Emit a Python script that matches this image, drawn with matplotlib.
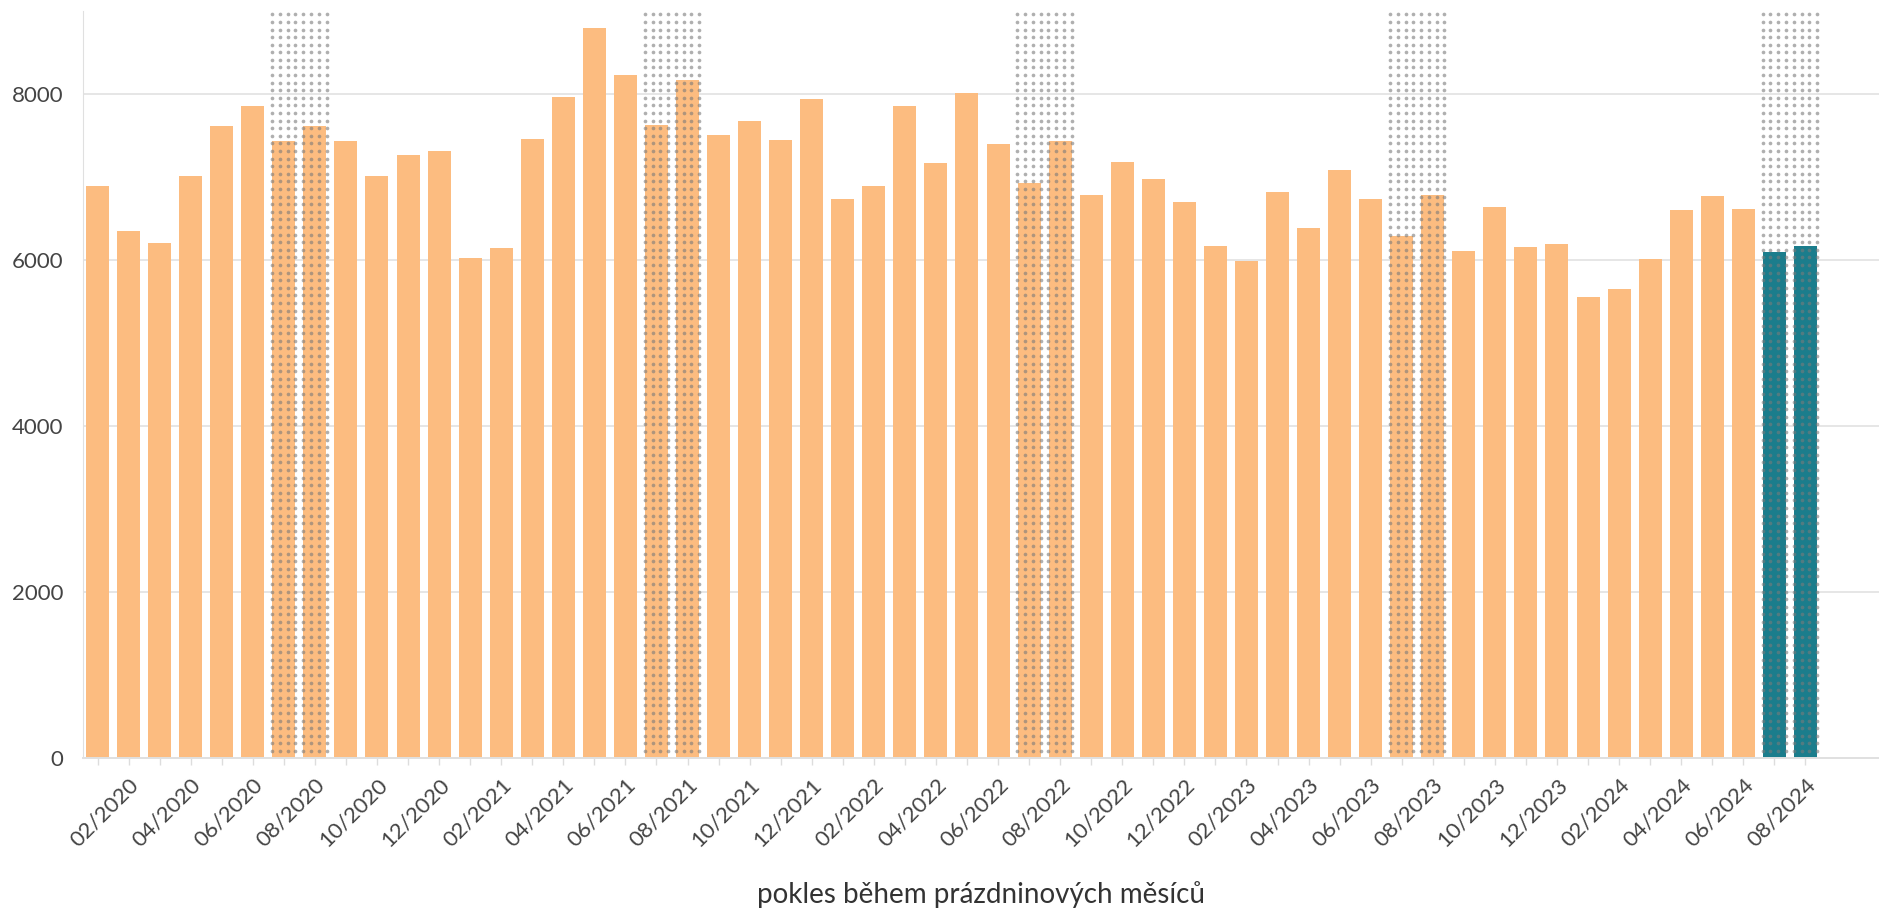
import numpy as np
import matplotlib.pyplot as plt

# monthly values 01/2020 - 08/2024
months = [f'{m:02d}/{y}' for y in range(2020, 2025) for m in range(1, 13)][:56]
values = [6890, 6350, 6210, 7010, 7620, 7850, 7430, 7610, 7430, 7010, 7260, 7310,
          6020, 6140, 7460, 7960, 8790, 8230, 7630, 8170, 7510, 7680, 7440, 7940,
          6730, 6890, 7850, 7170, 8010, 7400, 6930, 7430, 6780, 7180, 6970, 6700,
          6170, 5990, 6820, 6380, 7080, 6730, 6290, 6780, 6110, 6640, 6160, 6190,
          5560, 5650, 6010, 6600, 6770, 6610, 6100, 6170]
holiday_months = ['07', '08']   # prázdniny
current = ['07/2024', '08/2024']
yticks = [0, 2000, 4000, 6000, 8000]
xlabel = 'pokles během prázdninových měsíců'

orange = '#fcbc80'
teal = '#1b7d8c'

plt.rcParams['font.family'] = ['Lato', 'DejaVu Sans']

fig = plt.figure(figsize=(18.79, 9.18), dpi=100)
ax = fig.add_axes([83 / 1879, 160 / 918, 1796 / 1879, 747 / 918])

x = np.arange(len(months))
colors = [teal if m in current else orange for m in months]
ax.bar(x, values, width=0.74, color=colors, zorder=2)

# dotted pattern over the summer holiday months (grid of dots, 4 per bar)
hol_idx = [i for i, m in enumerate(months) if m[:2] in holiday_months]
dot_cols = np.array([-0.375, -0.125, 0.125, 0.375])
dot_rows = np.arange(8960, 0, -91.5)
dx, dy = np.meshgrid(np.concatenate([i + dot_cols for i in hol_idx]), dot_rows)
ax.scatter(dx.ravel(), dy.ravel(), s=7, color='#7a7a7a', alpha=0.6,
           linewidths=0, zorder=3)

ax.set_xlim(-0.467, 57.37)
ax.set_ylim(0, 9000)

ax.set_yticks(yticks)
ax.tick_params(axis='y', length=0, pad=14, labelsize=16, labelcolor='#444444')
ax.set_xticks(x)
ax.set_xticklabels([m if int(m[:2]) % 2 == 0 else '' for m in months],
                   rotation=45, ha='right', va='top', rotation_mode='anchor')
ax.tick_params(axis='x', length=5, width=1, color='#dddddd', pad=7, labelsize=16,
               labelcolor='#444444')

ax.yaxis.grid(True, color='#e6e6e6', linewidth=1.4)
ax.set_axisbelow(True)
for s in ['top', 'right']:
    ax.spines[s].set_visible(False)
ax.spines['left'].set_color('#e0e0e0')
ax.spines['bottom'].set_color('#e0e0e0')
ax.spines['bottom'].set_linewidth(1.4)

ax.set_xlabel(xlabel, fontsize=20, color='#333333', va='center')
ax.xaxis.set_label_coords(0.5, -0.183)

fig.savefig('out.png', dpi=100)
